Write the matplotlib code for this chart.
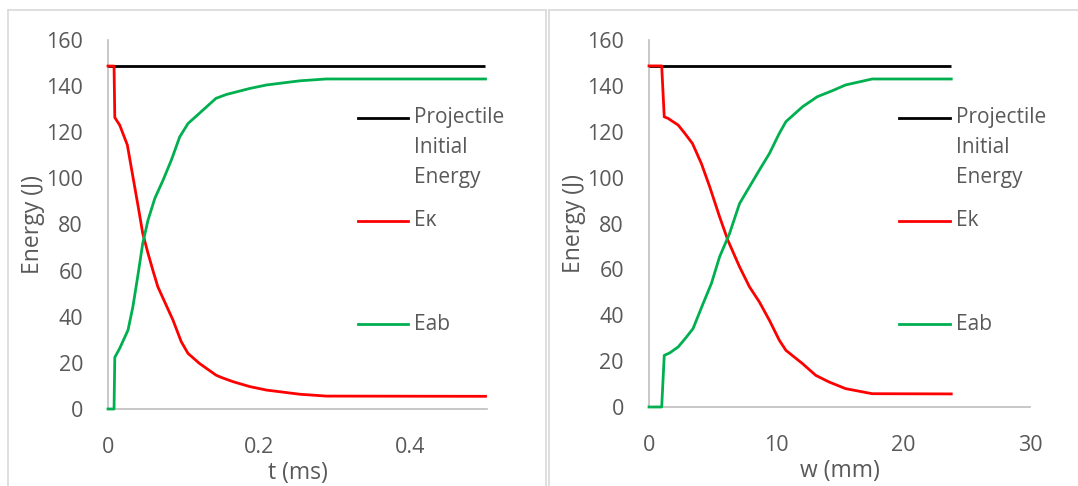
import matplotlib
matplotlib.use("Agg")
import matplotlib.pyplot as plt
from matplotlib.lines import Line2D

plt.rcParams['font.family'] = ['Open Sans', 'DejaVu Sans']

# ---- Data: left panel (time) ----
t_ms = [0, 0.008, 0.009, 0.0155, 0.0256, 0.033, 0.040, 0.046, 0.053, 0.060, 0.066,
        0.075, 0.086, 0.097, 0.106, 0.121, 0.143, 0.150, 0.166, 0.188, 0.21, 0.254,
        0.289, 0.5]
ek_t = [148.7, 148.7, 126.4, 123.1, 114.5, 100.7, 87.7, 76.2, 67.5, 59.5, 53.0,
        46.5, 38.6, 29.2, 24.1, 19.8, 14.7, 13.7, 11.8, 9.7, 8.2, 6.4, 5.6, 5.5]
t_ms_ab = [0, 0.008, 0.009, 0.0155, 0.0265, 0.033, 0.040, 0.046, 0.053, 0.062, 0.073,
           0.084, 0.095, 0.106, 0.121, 0.143, 0.157, 0.188, 0.21, 0.254, 0.289, 0.5]
eab_t = [0, 0, 22.4, 26.3, 34.2, 44.4, 58.8, 71.8, 81.9, 91.3, 99.3,
         108.0, 118.0, 123.8, 128.2, 134.7, 136.4, 139.0, 140.5, 142.3, 143.1, 143.1]
t_proj = [0, 0.5]
proj_t = [148.7, 148.7]

# ---- Data: right panel (displacement) ----
w_mm = [0, 1.0, 1.2, 1.51, 2.3, 2.82, 3.42, 4.12, 4.78, 5.56, 6.21, 7.13, 7.91,
        8.69, 9.48, 10.26, 10.78, 12.09, 13.13, 14.18, 15.48, 17.57, 23.8]
ek_w = [148.7, 148.7, 126.5, 125.8, 122.9, 119.3, 114.9, 106.2, 96.0, 82.9, 72.7,
        61.1, 52.4, 45.8, 37.8, 29.1, 24.7, 18.9, 13.8, 10.9, 8.0, 5.8, 5.7]
w_mm_ab = [0, 1.0, 1.2, 1.64, 2.3, 2.95, 3.47, 4.26, 4.91, 5.56, 6.34, 7.13, 7.91,
           8.69, 9.48, 10.26, 10.78, 12.09, 13.26, 14.44, 15.48, 17.57, 23.8]
eab_w = [0, 0, 22.5, 23.6, 26.2, 30.5, 34.2, 45.1, 53.8, 65.5, 75.6, 88.7, 96.0,
         103.3, 110.5, 119.3, 124.4, 130.9, 135.3, 137.9, 140.4, 143.0, 143.0]
w_proj = [0, 23.8]
proj_w = [148.7, 148.7]

y_ticks = [0, 20, 40, 60, 80, 100, 120, 140, 160]
x_ticks_left = [0, 0.2, 0.4]
x_ticks_right = [0, 10, 20, 30]
labels_left = ['Projectile\nInitial\nEnergy', 'E\u03ba', 'Eab']
labels_right = ['Projectile\nInitial\nEnergy', 'Ek', 'Eab']

TXT = '#595959'
SPINE = '#BFBFBF'
BLACK = '#000000'
RED = '#FF0000'
GREEN = '#00B050'
TICK_FS = 15.5
LAB_FS = 16.5
LEG_FS = 15

fig = plt.figure(figsize=(10.78, 4.86), dpi=100)

# Chart frames
frame_c = '#D9D9D9'
fig.add_artist(Line2D([8/1078, 546/1078], [1-10.5/486]*2, color=frame_c, lw=1.2))
fig.add_artist(Line2D([8/1078, 8/1078], [0, 1-10.5/486], color=frame_c, lw=1.2))
fig.add_artist(Line2D([546/1078, 546/1078], [0, 1-10.5/486], color=frame_c, lw=1.2))
fig.add_artist(Line2D([549/1078, 1.0], [1-10.5/486]*2, color=frame_c, lw=1.2))
fig.add_artist(Line2D([549/1078, 549/1078], [0, 1-10.5/486], color=frame_c, lw=1.2))

ax1 = fig.add_axes([108/1078, 1-409/486, (487-108)/1078, (409-40)/486])
ax2 = fig.add_axes([649/1078, 1-407/486, (1030-649)/1078, (407-40)/486])

def style(ax, xlim, xticks, xlabel):
    ax.set_ylim(0, 160)
    ax.set_xlim(*xlim)
    ax.set_yticks(y_ticks)
    ax.set_xticks(xticks)
    ax.set_xticklabels(['%g' % v for v in xticks])
    for s in ['top', 'right']:
        ax.spines[s].set_visible(False)
    for s in ['left', 'bottom']:
        ax.spines[s].set_color(SPINE)
        ax.spines[s].set_linewidth(1.2)
        ax.spines[s].set_zorder(1)
    ax.tick_params(length=0, labelsize=TICK_FS, colors=TXT)
    ax.tick_params(axis='x', pad=20)
    ax.tick_params(axis='y', pad=18)
    ax.set_ylabel('Energy (J)', fontsize=LAB_FS, color=TXT, labelpad=1)
    ax.set_xlabel(xlabel, fontsize=LAB_FS, color=TXT, labelpad=2)

# Left panel
l1, = ax1.plot(t_proj, proj_t, color=BLACK, lw=2, solid_capstyle='butt', zorder=3)
l2, = ax1.plot(t_ms, ek_t, color=RED, lw=2, zorder=4, clip_on=False)
l3, = ax1.plot(t_ms_ab, eab_t, color=GREEN, lw=2, zorder=5, clip_on=False)
style(ax1, (0, 0.502), x_ticks_left, 't (ms)')

# Right panel
r1, = ax2.plot(w_proj, proj_w, color=BLACK, lw=2, solid_capstyle='butt', zorder=3)
r2, = ax2.plot(w_mm, ek_w, color=RED, lw=2, zorder=4, clip_on=False)
r3, = ax2.plot(w_mm_ab, eab_w, color=GREEN, lw=2, zorder=5, clip_on=False)
style(ax2, (0, 30), x_ticks_right, 'w (mm)')

def legend2(handles, labels, x0, x1):
    ys = [118, 221, 324]
    for h, lab, y in zip(handles, labels, ys):
        yf = 1 - y/486
        fig.add_artist(Line2D([x0/1078, x1/1078], [yf, yf], color=h.get_color(), lw=2))
        for i, part in enumerate(lab.split('\n')):
            fig.text((x1+6)/1078, 1 - (y + i*29.5)/486, part, fontsize=LEG_FS, color=TXT,
                     va='center', ha='left')

legend2([l1, l2, l3], labels_left, 358, 408)
legend2([r1, r2, r3], labels_right, 899, 950)

fig.savefig('out.png', dpi=100)
